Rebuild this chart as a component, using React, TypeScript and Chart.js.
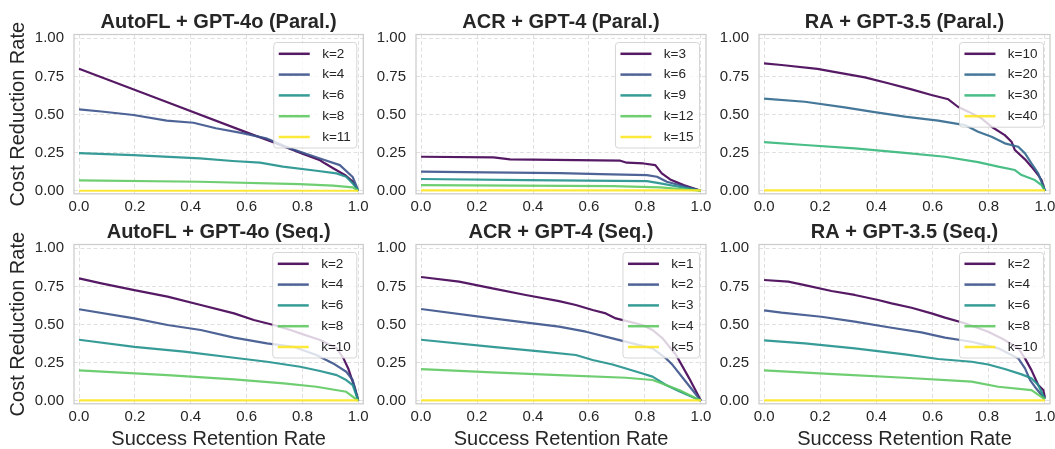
import React, { useEffect, useRef } from "react";
import { Chart, registerables } from "chart.js";

Chart.register(...registerables);

// ---------------- data ----------------
const xTickVals = [0, 0.2, 0.4, 0.6, 0.8, 1.0];
const yTickVals = [0, 0.25, 0.5, 0.75, 1.0];

// AutoFL + GPT-4o (Paral.)
const afParLabels = ["k=2", "k=4", "k=6", "k=8", "k=11"];
const afParK2 = [[0, 0.80], [0.3, 0.592], [0.6, 0.383], [0.7, 0.315], [0.8, 0.243], [0.863, 0.2], [0.88, 0.18], [0.91, 0.148], [0.955, 0.1], [0.98, 0.06], [1, 0]];
const afParK4 = [[0, 0.534], [0.08, 0.52], [0.195, 0.497], [0.314, 0.46], [0.41, 0.446], [0.49, 0.41], [0.59, 0.376], [0.67, 0.344], [0.755, 0.278], [0.863, 0.212], [0.934, 0.168], [0.98, 0.09], [1, 0]];
const afParK6 = [[0, 0.247], [0.195, 0.234], [0.433, 0.212], [0.55, 0.195], [0.648, 0.184], [0.73, 0.158], [0.85, 0.131], [0.922, 0.114], [0.957, 0.092], [0.98, 0.048], [1, 0]];
const afParK8 = [[0, 0.068], [0.433, 0.059], [0.79, 0.044], [0.91, 0.033], [0.98, 0.022], [1, 0]];
const afParK11 = [[0, 0], [1, 0]];

// ACR + GPT-4 (Paral.)
const acrParLabels = ["k=3", "k=6", "k=9", "k=12", "k=15"];
const acrParK3 = [[0, 0.223], [0.259, 0.219], [0.318, 0.206], [0.557, 0.201], [0.712, 0.197], [0.735, 0.184], [0.795, 0.179], [0.837, 0.168], [0.86, 0.114], [0.89, 0.074], [0.938, 0.037], [1, 0]];
const acrParK6 = [[0, 0.125], [0.235, 0.12], [0.497, 0.116], [0.64, 0.109], [0.807, 0.103], [0.843, 0.092], [0.878, 0.059], [1, 0]];
const acrParK9 = [[0, 0.077], [0.378, 0.07], [0.807, 0.063], [0.855, 0.048], [1, 0]];
const acrParK12 = [[0, 0.037], [0.688, 0.031], [0.855, 0.022], [1, 0]];
const acrParK15 = [[0, 0.002], [1, 0.002]];

// RA + GPT-3.5 (Paral.)
const raParLabels = ["k=10", "k=20", "k=30", "k=40"];
const raParK10 = [[0, 0.835], [0.062, 0.825], [0.19, 0.8], [0.264, 0.775], [0.359, 0.744], [0.442, 0.705], [0.525, 0.665], [0.596, 0.628], [0.656, 0.6], [0.69, 0.551], [0.727, 0.519], [0.774, 0.475], [0.81, 0.42], [0.857, 0.365], [0.881, 0.322], [0.893, 0.267], [0.929, 0.206], [0.952, 0.158], [0.976, 0.103], [0.988, 0.07], [1, 0]];
const raParK20 = [[0, 0.604], [0.145, 0.584], [0.287, 0.547], [0.382, 0.519], [0.501, 0.486], [0.62, 0.46], [0.715, 0.431], [0.762, 0.387], [0.81, 0.354], [0.857, 0.311], [0.905, 0.289], [0.929, 0.245], [0.952, 0.179], [0.976, 0.114], [1, 0]];
const raParK30 = [[0, 0.319], [0.145, 0.3], [0.323, 0.278], [0.501, 0.249], [0.644, 0.223], [0.762, 0.188], [0.834, 0.158], [0.893, 0.136], [0.917, 0.103], [0.964, 0.07], [0.988, 0.037], [1, 0]];
const raParK40 = [[0, 0.002], [1, 0.002]];

// AutoFL + GPT-4o (Seq.)
const afSeqLabels = ["k=2", "k=4", "k=6", "k=8", "k=10"];
const afSeqK2 = [[0, 0.803], [0.08, 0.77], [0.198, 0.726], [0.317, 0.683], [0.436, 0.628], [0.555, 0.573], [0.626, 0.53], [0.697, 0.497], [0.757, 0.464], [0.792, 0.442], [0.863, 0.398], [0.923, 0.344], [0.947, 0.278], [0.964, 0.212], [0.976, 0.147], [0.988, 0.081], [1, 0]];
const afSeqK4 = [[0, 0.6], [0.198, 0.54], [0.317, 0.497], [0.436, 0.464], [0.555, 0.414], [0.673, 0.376], [0.768, 0.354], [0.85, 0.3], [0.91, 0.245], [0.957, 0.19], [0.98, 0.136], [1, 0]];
const afSeqK6 = [[0, 0.4], [0.198, 0.354], [0.376, 0.322], [0.555, 0.282], [0.673, 0.256], [0.792, 0.223], [0.863, 0.195], [0.923, 0.168], [0.957, 0.136], [0.98, 0.103], [1, 0]];
const afSeqK8 = [[0, 0.199], [0.317, 0.168], [0.555, 0.14], [0.733, 0.114], [0.85, 0.092], [0.957, 0.059], [1, 0]];
const afSeqK10 = [[0, 0.002], [1, 0.002]];

// ACR + GPT-4 (Seq.)
const acrSeqLabels = ["k=1", "k=2", "k=3", "k=4", "k=5"];
const acrSeqK1 = [[0, 0.812], [0.136, 0.781], [0.255, 0.737], [0.374, 0.694], [0.493, 0.654], [0.553, 0.628], [0.613, 0.595], [0.66, 0.573], [0.696, 0.54], [0.791, 0.497], [0.827, 0.464], [0.863, 0.409], [0.911, 0.3], [0.958, 0.147], [1, 0]];
const acrSeqK2 = [[0, 0.602], [0.255, 0.54], [0.493, 0.486], [0.589, 0.453], [0.684, 0.409], [0.78, 0.365], [0.827, 0.344], [0.875, 0.278], [0.899, 0.234], [0.946, 0.125], [1, 0]];
const acrSeqK3 = [[0, 0.4], [0.255, 0.354], [0.434, 0.322], [0.553, 0.3], [0.613, 0.267], [0.684, 0.238], [0.732, 0.212], [0.791, 0.179], [0.827, 0.158], [0.875, 0.103], [0.922, 0.063], [1, 0]];
const acrSeqK4 = [[0, 0.208], [0.255, 0.186], [0.493, 0.168], [0.732, 0.151], [0.827, 0.136], [0.875, 0.103], [0.922, 0.07], [1, 0]];
const acrSeqK5 = [[0, 0.002], [1, 0.002]];

// RA + GPT-3.5 (Seq.)
const raSeqLabels = ["k=2", "k=4", "k=6", "k=8", "k=10"];
const raSeqK2 = [[0, 0.792], [0.086, 0.781], [0.145, 0.759], [0.24, 0.72], [0.323, 0.694], [0.406, 0.661], [0.454, 0.639], [0.525, 0.61], [0.596, 0.573], [0.644, 0.545], [0.715, 0.508], [0.798, 0.453], [0.857, 0.398], [0.905, 0.344], [0.929, 0.278], [0.952, 0.201], [0.976, 0.103], [0.994, 0.07], [1, 0.02]];
const raSeqK4 = [[0, 0.593], [0.062, 0.578], [0.204, 0.551], [0.323, 0.519], [0.454, 0.479], [0.56, 0.449], [0.644, 0.414], [0.739, 0.387], [0.834, 0.344], [0.905, 0.278], [0.929, 0.212], [0.947, 0.136], [0.964, 0.092], [1, 0.01]];
const raSeqK6 = [[0, 0.396], [0.145, 0.376], [0.323, 0.344], [0.501, 0.304], [0.62, 0.274], [0.739, 0.256], [0.798, 0.238], [0.857, 0.208], [0.917, 0.173], [0.952, 0.147], [0.976, 0.103], [1, 0.01]];
const raSeqK8 = [[0, 0.199], [0.264, 0.173], [0.501, 0.151], [0.739, 0.125], [0.834, 0.092], [0.952, 0.07], [1, 0.01]];
const raSeqK10 = [[0, 0.002], [1, 0.002]];

const viridis5 = ["#440154", "#3b528b", "#21918c", "#5ec962", "#fde725"];
const viridis4 = ["#440154", "#31688e", "#35b779", "#fde725"];

// ---------------- layout / style ----------------
const FONT = "'Liberation Sans', Arial, Helvetica, sans-serif";
const TEXT = "#262626";
const W = 1055;
const H = 449;

const panels = [
  { title: "AutoFL + GPT-4o (Paral.)", labels: afParLabels, series: [afParK2, afParK4, afParK6, afParK8, afParK11], colors: viridis5, row: 0, col: 0 },
  { title: "ACR + GPT-4 (Paral.)", labels: acrParLabels, series: [acrParK3, acrParK6, acrParK9, acrParK12, acrParK15], colors: viridis5, row: 0, col: 1 },
  { title: "RA + GPT-3.5 (Paral.)", labels: raParLabels, series: [raParK10, raParK20, raParK30, raParK40], colors: viridis4, row: 0, col: 2 },
  { title: "AutoFL + GPT-4o (Seq.)", labels: afSeqLabels, series: [afSeqK2, afSeqK4, afSeqK6, afSeqK8, afSeqK10], colors: viridis5, row: 1, col: 0 },
  { title: "ACR + GPT-4 (Seq.)", labels: acrSeqLabels, series: [acrSeqK1, acrSeqK2, acrSeqK3, acrSeqK4, acrSeqK5], colors: viridis5, row: 1, col: 1 },
  { title: "RA + GPT-3.5 (Seq.)", labels: raSeqLabels, series: [raSeqK2, raSeqK4, raSeqK6, raSeqK8, raSeqK10], colors: viridis5, row: 1, col: 2 },
];

const rowGeo = [
  { padTop: 0, plotTop: 34.5, plotBottom: 193.8, xH: 30 },
  { padTop: 210, plotTop: 244.5, plotBottom: 403.8, xH: 45.2 },
];
const colGeo = [
  { left: 74, right: 363.3, yW: 74 },
  { left: 416, right: 706, yW: 50 },
  { left: 759, right: 1050, yW: 50 },
];

function hexA(hex: string, a: number) {
  const n = parseInt(hex.slice(1), 16);
  return `rgba(${(n >> 16) & 255},${(n >> 8) & 255},${n & 255},${a})`;
}

const framePlugin = {
  id: "frameLegend",
  afterDatasetsDraw(chart: any) {
    const { ctx, chartArea: a } = chart;
    ctx.save();
    // frame
    ctx.strokeStyle = "#cccccc";
    ctx.lineWidth = 1.25;
    ctx.strokeRect(a.left, a.top, a.right - a.left, a.bottom - a.top);
    // legend
    const ds = chart.data.datasets;
    ctx.font = `13.5px ${FONT}`;
    let tw = 0;
    ds.forEach((d: any) => { tw = Math.max(tw, ctx.measureText(d.label).width); });
    const rowH = 20.8;
    const w = 48.4 + tw + 6;
    const h = 22.3 + (ds.length - 1) * rowH;
    const x = a.right - 6.5 - w;
    const y = a.top + 8;
    const r = 3;
    ctx.beginPath();
    ctx.moveTo(x + r, y);
    ctx.lineTo(x + w - r, y);
    ctx.quadraticCurveTo(x + w, y, x + w, y + r);
    ctx.lineTo(x + w, y + h - r);
    ctx.quadraticCurveTo(x + w, y + h, x + w - r, y + h);
    ctx.lineTo(x + r, y + h);
    ctx.quadraticCurveTo(x, y + h, x, y + h - r);
    ctx.lineTo(x, y + r);
    ctx.quadraticCurveTo(x, y, x + r, y);
    ctx.closePath();
    ctx.fillStyle = "rgba(255,255,255,0.8)";
    ctx.fill();
    ctx.strokeStyle = "rgba(204,204,204,0.8)";
    ctx.lineWidth = 1;
    ctx.stroke();
    ds.forEach((d: any, i: number) => {
      const cy = y + 11.3 + i * rowH;
      ctx.beginPath();
      ctx.moveTo(x + 5, cy);
      ctx.lineTo(x + 36, cy);
      ctx.strokeStyle = d.borderColor;
      ctx.lineWidth = 2.5;
      ctx.stroke();
      ctx.fillStyle = TEXT;
      ctx.textAlign = "left";
      ctx.textBaseline = "middle";
      ctx.fillText(d.label, x + 48.4, cy);
    });
    ctx.restore();
  },
};

function buildConfig(p: any): any {
  const rg = rowGeo[p.row];
  const cg = colGeo[p.col];
  const n = p.series.length;
  const tickFont = { family: FONT, size: 15 };
  const titleFont = { family: FONT, size: 20, lineHeight: 1 };
  const gridOpts = { color: "rgba(204,204,204,0.6)", lineWidth: 1, drawTicks: false };
  return {
    type: "line",
    data: {
      datasets: p.series.map((s: number[][], i: number) => ({
        label: p.labels[i],
        data: s.map(([x, y]) => ({ x, y })),
        borderColor: hexA(p.colors[i], 0.9),
        borderWidth: 2.2,
        pointRadius: 0,
        fill: false,
        tension: 0,
        borderJoinStyle: "round",
        order: n - i,
      })),
    },
    options: {
      animation: false,
      responsive: false,
      events: [],
      layout: {
        padding: {
          left: cg.left - cg.yW,
          right: W - cg.right,
          top: rg.padTop,
          bottom: H - rg.plotBottom - rg.xH,
        },
      },
      plugins: {
        legend: { display: false },
        tooltip: { enabled: false },
        title: {
          display: true,
          text: p.title,
          fullSize: false,
          color: TEXT,
          font: { family: FONT, size: 20, weight: "bold", lineHeight: 1 },
          padding: { top: 12.5, bottom: rg.plotTop - rg.padTop - 32.5 },
        },
      },
      scales: {
        x: {
          type: "linear",
          min: -0.018,
          max: 1.018,
          afterBuildTicks: (s: any) => { s.ticks = xTickVals.map((v) => ({ value: v })); },
          afterFit: (s: any) => {
            s.height = rg.xH;
            s.paddingLeft = 0; s.paddingRight = 0; s.paddingTop = 0; s.paddingBottom = 0;
          },
          ticks: {
            callback: (v: any) => Number(v).toFixed(1),
            font: tickFont,
            color: TEXT,
            padding: 4,
            maxRotation: 0,
            minRotation: 0,
            autoSkip: false,
          },
          grid: gridOpts,
          border: { display: false, dash: [4, 2.5] },
          title: {
            display: p.row === 1,
            text: "Success Retention Rate",
            color: TEXT,
            font: titleFont,
            padding: { top: 0, bottom: 0 },
          },
        },
        y: {
          type: "linear",
          min: -0.02,
          max: 1.025,
          afterBuildTicks: (s: any) => { s.ticks = yTickVals.map((v) => ({ value: v })); },
          afterFit: (s: any) => {
            s.width = cg.yW;
            s.paddingLeft = 0; s.paddingRight = 0; s.paddingTop = 0; s.paddingBottom = 0;
          },
          ticks: {
            callback: (v: any) => Number(v).toFixed(2),
            font: tickFont,
            color: TEXT,
            padding: 10,
            autoSkip: false,
          },
          grid: gridOpts,
          border: { display: false, dash: [4, 2.5] },
          title: {
            display: p.col === 0,
            text: "Cost Reduction Rate",
            color: TEXT,
            font: titleFont,
            padding: { top: 8.3, bottom: 0 },
          },
        },
      },
    },
    plugins: [framePlugin],
  };
}

function Panel({ p }: { p: any }) {
  const ref = useRef<HTMLCanvasElement>(null);
  useEffect(() => {
    const chart = new Chart(ref.current as HTMLCanvasElement, buildConfig(p));
    return () => chart.destroy();
  }, [p]);
  return (
    <canvas
      ref={ref}
      width={W}
      height={H}
      style={{ position: "absolute", left: 0, top: 0, width: W, height: H }}
    />
  );
}

export default function App() {
  return (
    <div
      style={{
        position: "fixed",
        left: 0,
        top: 0,
        width: W,
        height: H,
        background: "#ffffff",
        overflow: "hidden",
      }}
    >
      {panels.map((p, i) => (
        <Panel key={i} p={p} />
      ))}
    </div>
  );
}
